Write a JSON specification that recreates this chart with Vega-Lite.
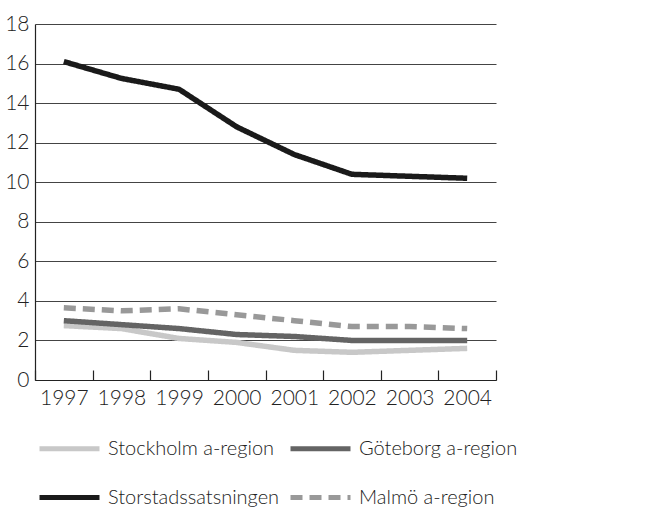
{
  "$schema": "https://vega.github.io/schema/vega-lite/v6.json",
  "width": 461,
  "height": 356,
  "autosize": {"type": "none"},
  "padding": {"left": 35, "top": 24, "right": 155, "bottom": 139},
  "background": "white",
  "config": {
    "view": {"stroke": null},
    "font": "Lato",
    "axis": {"labelFont": "Lato", "labelFontWeight": 300, "labelColor": "#222", "labelFontSize": 21},
    "legend": {"labelFont": "Lato", "labelFontWeight": 300, "labelColor": "#222", "labelFontSize": 20}
  },
  "data": {
    "values": [
      {"year": "1997", "series": "Stockholm a-region", "value": 2.75},
      {"year": "1998", "series": "Stockholm a-region", "value": 2.6},
      {"year": "1999", "series": "Stockholm a-region", "value": 2.1},
      {"year": "2000", "series": "Stockholm a-region", "value": 1.9},
      {"year": "2001", "series": "Stockholm a-region", "value": 1.5},
      {"year": "2002", "series": "Stockholm a-region", "value": 1.4},
      {"year": "2003", "series": "Stockholm a-region", "value": 1.5},
      {"year": "2004", "series": "Stockholm a-region", "value": 1.6},
      {"year": "1997", "series": "Göteborg a-region", "value": 3.0},
      {"year": "1998", "series": "Göteborg a-region", "value": 2.8},
      {"year": "1999", "series": "Göteborg a-region", "value": 2.6},
      {"year": "2000", "series": "Göteborg a-region", "value": 2.3},
      {"year": "2001", "series": "Göteborg a-region", "value": 2.2},
      {"year": "2002", "series": "Göteborg a-region", "value": 2.0},
      {"year": "2003", "series": "Göteborg a-region", "value": 2.0},
      {"year": "2004", "series": "Göteborg a-region", "value": 2.0},
      {"year": "1997", "series": "Storstadssatsningen", "value": 16.1},
      {"year": "1998", "series": "Storstadssatsningen", "value": 15.25},
      {"year": "1999", "series": "Storstadssatsningen", "value": 14.7},
      {"year": "2000", "series": "Storstadssatsningen", "value": 12.8},
      {"year": "2001", "series": "Storstadssatsningen", "value": 11.4},
      {"year": "2002", "series": "Storstadssatsningen", "value": 10.4},
      {"year": "2003", "series": "Storstadssatsningen", "value": 10.3},
      {"year": "2004", "series": "Storstadssatsningen", "value": 10.2},
      {"year": "1997", "series": "Malmö a-region", "value": 3.65},
      {"year": "1998", "series": "Malmö a-region", "value": 3.5},
      {"year": "1999", "series": "Malmö a-region", "value": 3.6},
      {"year": "2000", "series": "Malmö a-region", "value": 3.3},
      {"year": "2001", "series": "Malmö a-region", "value": 3.0},
      {"year": "2002", "series": "Malmö a-region", "value": 2.7},
      {"year": "2003", "series": "Malmö a-region", "value": 2.7},
      {"year": "2004", "series": "Malmö a-region", "value": 2.6}
    ]
  },
  "mark": {"type": "line", "strokeWidth": 5.5, "strokeCap": "butt"},
  "encoding": {
    "x": {
      "field": "year", "type": "ordinal",
      "scale": {"type": "band", "paddingInner": 0, "paddingOuter": 0},
      "bandPosition": 0.5,
      "axis": {
        "title": null, "labelAngle": 0, "tickBand": "extent",
        "tickSize": -10, "tickColor": "#222", "domainColor": "#222",
        "domainWidth": 1.2, "tickWidth": 1.2, "labelPadding": 17, "grid": false
      }
    },
    "y": {
      "field": "value", "type": "quantitative",
      "scale": {"domain": [0, 18], "nice": false},
      "axis": {
        "title": null, "values": [0, 2, 4, 6, 8, 10, 12, 14, 16, 18],
        "ticks": false, "labelPadding": 6, "domainColor": "#222", "domainWidth": 1.2,
        "grid": true, "gridColor": "#444", "gridWidth": 1.2
      }
    },
    "color": {
      "field": "series", "type": "nominal",
      "scale": {
        "domain": ["Stockholm a-region", "Göteborg a-region", "Storstadssatsningen", "Malmö a-region"],
        "range": ["#c8c8c8", "#646464", "#1a1a1a", "#999999"]
      },
      "legend": {
        "title": null, "orient": "none", "legendX": 2, "legendY": 392,
        "direction": "horizontal",
        "columns": 2, "columnPadding": 0, "rowPadding": 6,
        "symbolType": "stroke", "symbolSize": 3600, "symbolStrokeWidth": 5,
        "labelOffset": 6, "labelLimit": 300,
        "symbolDash": {"condition": {"test": "datum.value === 'Malmö a-region'", "value": [10, 5]}, "value": []}
      }
    },
    "strokeDash": {
      "field": "series", "type": "nominal",
      "scale": {
        "domain": ["Stockholm a-region", "Göteborg a-region", "Storstadssatsningen", "Malmö a-region"],
        "range": [[1, 0], [1, 0], [1, 0], [12, 7]]
      },
      "legend": null
    }
  }
}
